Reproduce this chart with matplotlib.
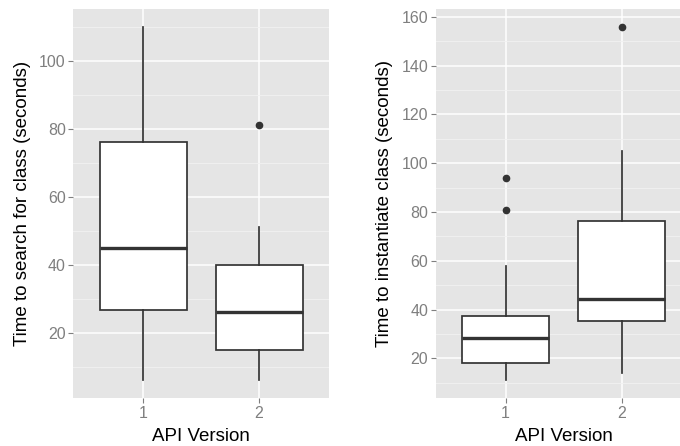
import matplotlib.pyplot as plt

plt.rcParams['font.family'] = ['Liberation Sans', 'DejaVu Sans']

# box summaries: per API version
versions = ['1', '2']

search_q1 = [26.8, 15]
search_med = [45, 26]
search_q3 = [76.2, 40]
search_lo = [6, 6]
search_hi = [110, 51]
search_out = [[], [81]]

inst_q1 = [18, 35.2]
inst_med = [28.2, 44.2]
inst_q3 = [37.3, 76.3]
inst_lo = [11, 14]
inst_hi = [58, 105]
inst_out = [[94, 81], [156]]


def stats(q1, med, q3, lo, hi, out):
    res = []
    for i in range(len(q1)):
        res.append({'q1': q1[i], 'med': med[i], 'q3': q3[i],
                    'whislo': lo[i], 'whishi': hi[i], 'fliers': out[i]})
    return res


def gg_panel(ax, st, ylabel, ylim, major, minor):
    ax.set_facecolor('#E5E5E5')
    ax.set_axisbelow(True)
    for s in ax.spines.values():
        s.set_visible(False)
    ax.set_yticks(major)
    ax.set_yticks(minor, minor=True)
    ax.grid(True, which='major', color='white', lw=1.1)
    ax.grid(True, which='minor', axis='y', color='#F2F2F2', lw=0.6)
    ax.bxp(st, positions=[1, 2], widths=0.75, patch_artist=True, showcaps=False,
           boxprops=dict(facecolor='white', edgecolor='#333333', lw=1.25),
           whiskerprops=dict(color='#333333', lw=1.25),
           medianprops=dict(color='#333333', lw=2.4),
           flierprops=dict(marker='o', markerfacecolor='#333333',
                           markeredgecolor='#333333', markersize=4.5))
    ax.set_xlim(0.4, 2.6)
    ax.set_ylim(*ylim)
    ax.set_xticks([1, 2])
    ax.set_xticklabels(versions)
    ax.tick_params(which='major', colors='#7F7F7F', labelcolor='#7F7F7F',
                   labelsize=11.5, length=3.5, width=0.8, pad=2)
    ax.tick_params(which='minor', length=0)
    ax.set_xlabel('API Version', fontsize=13.5, va='center')
    ax.set_ylabel(ylabel, fontsize=13.5, va='center')
    ax.xaxis.set_label_coords(0.5, -0.1)
    ax.yaxis.set_label_coords(-0.2, 0.5)


fig = plt.figure(figsize=(6.8, 4.46), dpi=100)
W, H = 680, 446
ax1 = fig.add_axes([73.4 / W, (H - 398) / H, 255.2 / W, 389 / H])
ax2 = fig.add_axes([436 / W, (H - 398) / H, 255.2 / W, 389 / H])

gg_panel(ax1, stats(search_q1, search_med, search_q3, search_lo, search_hi, search_out),
         'Time to search for class (seconds)', (0.8, 115.2),
         [20, 40, 60, 80, 100], [10, 30, 50, 70, 90, 110])
gg_panel(ax2, stats(inst_q1, inst_med, inst_q3, inst_lo, inst_hi, inst_out),
         'Time to instantiate class (seconds)', (3.75, 163.25),
         [20, 40, 60, 80, 100, 120, 140, 160], [10, 30, 50, 70, 90, 110, 130, 150])

fig.savefig('out.png', dpi=100)
